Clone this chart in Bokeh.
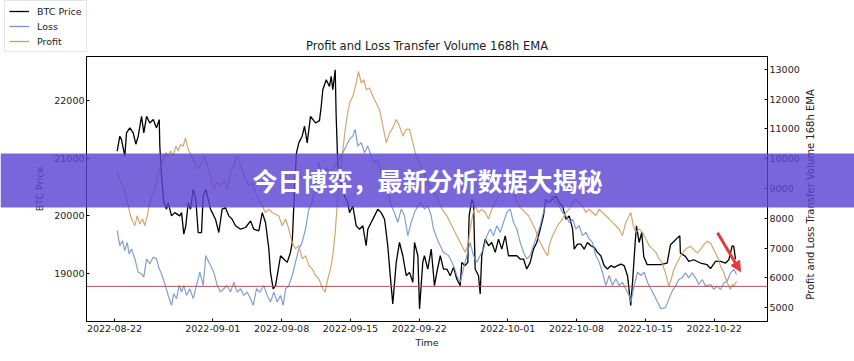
import math
import numpy as np
from bokeh.plotting import figure
from bokeh.layouts import column
from bokeh.models import (Range1d, LinearAxis, FixedTicker, DatetimeTickFormatter,
                          Span, BoxAnnotation, Label, Arrow, NormalHead, Legend, LegendItem)
from bokeh.embed import file_html
from bokeh.resources import INLINE

# ---------------- data ----------------
START = np.datetime64("2022-08-22T00:00:00", "ms")   # day 0 of the day offsets below
DAY_MS = 86400000

TICK_DATES = ["2022-08-22", "2022-09-01", "2022-09-08", "2022-09-15", "2022-09-22",
              "2022-10-01", "2022-10-08", "2022-10-15", "2022-10-22"]
LEFT_TICKS = [19000, 20000, 21000, 22000]
RIGHT_TICKS = [5000, 6000, 7000, 8000, 9000, 10000, 11000, 12000, 13000]
SERIES_NAMES = ["BTC Price", "Loss", "Profit"]

BTC_DAYS = [0.27, 0.54, 0.71, 1.05, 1.22, 1.56, 1.90, 2.17, 2.41, 2.75,
            2.98, 3.26, 3.59, 3.94, 4.27, 4.55, 4.61, 4.78, 5.02, 5.29,
            5.46, 5.80, 6.13, 6.64, 6.82, 7.05, 7.25, 7.50, 7.73, 8.01,
            8.27, 8.51, 8.85, 9.02, 9.29, 9.77, 9.94, 10.27, 10.61, 10.95,
            11.29, 11.63, 11.97, 12.31, 12.82, 13.33, 13.84, 14.17, 14.68, 15.03,
            15.36, 15.70, 15.87, 16.14, 16.38, 16.61, 16.89, 17.22, 17.57, 17.90,
            18.08, 18.31, 18.51, 18.75, 19.09, 19.33, 19.60, 19.94, 20.45, 20.85,
            21.03, 21.19, 21.54, 21.87, 22.04, 22.21, 22.45, 22.55, 22.72, 23.06,
            23.40, 23.73, 23.91, 24.24, 24.59, 24.92, 25.26, 25.60, 25.77, 26.11,
            26.45, 26.78, 27.13, 27.47, 27.80, 28.08, 28.31, 28.66, 28.99, 29.33,
            29.68, 30.01, 30.35, 30.52, 30.86, 31.03, 31.36, 31.53, 31.87, 32.22,
            32.55, 32.79, 33.14, 33.47, 33.81, 34.15, 34.49, 34.82, 35.17, 35.33,
            35.67, 35.94, 36.08, 36.35, 36.52, 36.69, 37.03, 37.20, 37.36, 37.71,
            38.05, 38.38, 38.73, 39.06, 39.40, 39.75, 40.08, 40.42, 40.93, 41.27,
            41.61, 41.94, 42.29, 42.62, 42.96, 43.31, 43.64, 43.87, 44.22, 44.56,
            44.90, 45.24, 45.58, 45.92, 46.26, 46.60, 46.77, 47.10, 47.44, 47.78,
            48.12, 48.46, 48.80, 49.13, 49.47, 49.82, 50.15, 50.49, 50.83, 51.17,
            51.51, 51.85, 52.19, 52.52, 52.70, 52.97, 53.10, 53.37, 53.64, 53.84,
            54.19, 54.86, 55.54, 56.22, 56.56, 56.90, 57.24, 57.51, 57.57, 58.08,
            58.42, 58.93, 59.61, 60.29, 60.63, 61.14, 61.65, 62.16, 62.50, 62.84,
            63.00, 63.17]
BTC_PRICE = [21121, 21379, 21322, 21034, 21436, 21523, 21436, 21241, 21379, 21724,
             21436, 21724, 21609, 21667, 21523, 21667, 21207, 20690, 20230, 20116,
             20230, 20000, 20057, 20000, 20057, 19684, 19828, 20230, 20116, 20460,
             20287, 19712, 19712, 20345, 20460, 20116, 20057, 19943, 19712, 20116,
             20143, 20000, 19943, 19828, 19770, 19799, 19914, 19770, 19741, 20057,
             19885, 19425, 19023, 18736, 18793, 19023, 19310, 19253, 19195, 19368,
             19540, 20460, 21092, 21264, 21379, 21552, 21264, 21724, 21609, 21650,
             21897, 22184, 22357, 22241, 22414, 22184, 22529, 21724, 20862, 20575,
             20345, 20230, 20057, 20172, 19828, 19770, 19828, 19483, 19770, 19885,
             20000, 20116, 20057, 19943, 19483, 18909, 18477, 19195, 19540, 19310,
             18965, 19023, 18850, 19540, 19310, 18391, 19195, 19310, 19080, 19425,
             18793, 19023, 19310, 19080, 19080, 18965, 19109, 18908, 18793, 19195,
             19138, 19195, 20000, 20287, 20230, 19080, 18965, 18650, 19310, 19598,
             19483, 19540, 19368, 19598, 19425, 19655, 19310, 19310, 19310, 19253,
             19253, 19080, 19195, 19425, 19540, 19770, 20000, 20287, 20230, 20287,
             20345, 20230, 20172, 19943, 20000, 19770, 19425, 19512, 19512, 19425,
             19540, 19483, 19454, 19368, 19310, 19138, 19080, 19138, 19109, 19138,
             19166, 19138, 18965, 18448, 18850, 19540, 19828, 19540, 19712, 19299,
             19155, 19155, 19155, 19184, 19500, 19557, 19615, 19655, 19356, 19299,
             19212, 19241, 19184, 19155, 19086, 19212, 19212, 19184, 19241, 19483,
             19471, 19253]

LOSS_DAYS = [0.27, 0.54, 0.81, 1.05, 1.29, 1.49, 1.73, 2.07, 2.41, 2.75,
             2.98, 3.26, 3.59, 3.94, 4.27, 4.55, 4.78, 5.12, 5.46, 5.80,
             6.03, 6.31, 6.58, 6.82, 7.05, 7.32, 7.66, 8.01, 8.34, 8.68,
             9.02, 9.29, 9.43, 9.77, 10.10, 10.45, 10.78, 11.12, 11.46, 11.80,
             12.14, 12.48, 12.82, 13.15, 13.50, 13.84, 14.11, 14.45, 14.78, 15.19,
             15.53, 15.87, 16.21, 16.55, 16.89, 17.16, 17.40, 17.73, 18.08, 18.41,
             18.75, 19.09, 19.43, 19.77, 20.11, 20.45, 20.78, 21.19, 21.54, 21.97,
             22.38, 23.06, 23.57, 23.91, 24.24, 24.48, 24.75, 25.10, 25.43, 25.77,
             26.11, 26.45, 26.78, 27.13, 27.47, 27.80, 28.15, 28.48, 28.82, 29.17,
             29.50, 29.84, 30.18, 30.52, 30.86, 31.20, 31.53, 31.87, 32.22, 32.45,
             32.96, 33.47, 33.98, 34.49, 34.82, 35.17, 35.50, 35.84, 36.18, 36.52,
             36.86, 37.20, 37.54, 37.88, 38.22, 38.56, 38.89, 39.24, 39.57, 39.91,
             40.25, 40.59, 40.93, 41.27, 41.61, 41.94, 42.29, 42.62, 42.96, 43.31,
             43.64, 43.98, 44.22, 44.56, 44.90, 45.24, 45.58, 45.92, 46.26, 46.60,
             46.93, 47.27, 47.61, 47.95, 48.29, 48.63, 48.96, 49.31, 49.64, 49.98,
             50.33, 50.66, 51.00, 51.34, 51.68, 52.01, 52.36, 52.52, 52.87, 53.21,
             53.54, 53.88, 54.22, 54.56, 54.91, 55.24, 55.58, 56.05, 56.39, 56.73,
             57.07, 57.41, 57.75, 58.08, 58.42, 58.77, 59.11, 59.44, 59.79, 60.13,
             60.63, 60.97, 61.31, 61.65, 61.99, 62.33, 62.67, 63.01, 63.28]
LOSS = [7583, 7081, 7248, 6914, 7191, 6803, 6971, 6636, 6188, 6135,
        6021, 6636, 6469, 6690, 6636, 6302, 6135, 5800, 5409, 5075,
        5466, 5299, 5743, 5520, 5743, 5409, 5633, 5299, 5743, 6188,
        5743, 6747, 6636, 6412, 6188, 5743, 5520, 5633, 5743, 5520,
        5854, 5520, 5633, 5409, 5520, 5299, 5075, 5633, 5520, 5743,
        5409, 5185, 5520, 5185, 5409, 5075, 5633, 5743, 6078, 6523,
        6971, 7191, 7640, 8308, 8529, 9198, 9867, 9400, 9700, 9500,
        9756, 10091, 10425, 10649, 10760, 10984, 10425, 10536, 10201, 10425,
        10091, 9867, 9980, 9532, 9198, 8863, 8419, 8195, 7860, 8308,
        8084, 7416, 7860, 8195, 8419, 8530, 8308, 8419, 8084, 7640,
        7191, 6857, 6747, 6412, 6078, 5854, 6302, 6747, 7191, 6747,
        6523, 6747, 6971, 7416, 7640, 7416, 7750, 7526, 7860, 8195,
        8308, 7860, 7640, 7191, 6857, 6636, 6747, 7081, 7416, 7750,
        8195, 8642, 8530, 8753, 8530, 8419, 8195, 8084, 7860, 7974,
        7640, 7750, 7416, 7526, 7305, 7191, 6747, 6523, 6188, 5743,
        6078, 5743, 5966, 5743, 5854, 5633, 5409, 5185, 5743, 6188,
        6078, 6188, 5854, 5633, 5409, 5185, 4964, 4998, 5275, 5553,
        5720, 5944, 6000, 6168, 6000, 6168, 6000, 5777, 5944, 5720,
        5777, 5610, 5720, 5610, 5834, 5887, 6168, 6279, 6112]

PROFIT_DAYS = [0.27, 0.54, 0.88, 1.15, 1.39, 1.63, 1.90, 2.07, 2.31, 2.58,
               2.85, 3.08, 3.33, 3.53, 3.76, 4.10, 4.34, 4.61, 4.88, 5.22,
               5.46, 5.70, 5.97, 6.24, 6.48, 6.71, 6.99, 7.22, 7.50, 7.83,
               8.17, 8.51, 8.85, 9.19, 9.43, 9.77, 10.10, 10.45, 10.78, 11.12,
               11.46, 11.80, 12.14, 12.41, 12.65, 12.99, 13.33, 13.66, 14.01, 14.34,
               14.68, 15.03, 15.36, 15.70, 16.04, 16.71, 17.06, 17.40, 17.73, 18.08,
               18.41, 18.75, 19.09, 19.43, 19.77, 20.11, 20.45, 20.78, 21.19, 21.43,
               21.70, 21.97, 22.21, 22.45, 22.72, 22.99, 23.23, 23.47, 23.67, 23.91,
               24.24, 24.59, 24.82, 25.10, 25.36, 25.60, 25.94, 26.28, 26.62, 26.96,
               27.30, 27.65, 27.98, 28.31, 28.66, 28.99, 29.33, 29.68, 30.01, 30.35,
               30.69, 31.03, 31.36, 31.71, 32.05, 32.38, 32.79, 33.30, 33.81, 34.31,
               34.82, 35.33, 35.67, 35.94, 36.18, 36.42, 36.69, 37.03, 37.36, 37.71,
               38.05, 38.38, 38.73, 39.06, 39.40, 39.75, 40.08, 40.42, 40.76, 41.10,
               41.44, 41.79, 42.12, 42.46, 42.80, 43.13, 43.47, 43.82, 44.08, 44.22,
               44.56, 45.07, 45.58, 45.92, 46.26, 46.60, 46.93, 47.27, 47.61, 47.95,
               48.29, 48.63, 48.96, 49.31, 49.64, 49.98, 50.33, 50.66, 51.00, 51.34,
               51.68, 52.01, 52.36, 52.52, 52.77, 53.03, 53.37, 53.71, 54.05, 54.39,
               54.73, 55.07, 55.41, 55.67, 56.05, 56.39, 56.63, 56.90, 57.24, 57.57,
               57.91, 58.26, 58.59, 58.93, 59.28, 59.61, 59.95, 60.29, 60.63, 60.97,
               61.31, 61.65, 61.99, 62.33, 62.67, 62.84, 63.01, 63.28]
PROFIT = [9589, 9311, 9087, 8753, 8419, 8084, 7860, 7750, 8084, 7807,
          7974, 7750, 8084, 8419, 8753, 8977, 9311, 9646, 9867, 10201,
          10091, 10258, 10091, 10425, 10258, 10482, 10425, 10702, 10315, 10091,
          9867, 9646, 9867, 10091, 9756, 9422, 8977, 9198, 9087, 9311,
          8977, 9532, 9756, 10091, 9980, 9646, 9311, 9087, 9198, 8863,
          8642, 8419, 8195, 8308, 8195, 8084, 7750, 7974, 7640, 7191,
          6971, 7081, 6636, 6747, 6412, 6302, 6078, 5966, 5633, 5520,
          5966, 6302, 6747, 7526, 8753, 9646, 10315, 10984, 11428, 11873,
          12097, 12542, 12933, 12542, 12655, 12321, 12375, 12097, 11873, 11652,
          11094, 10536, 10870, 11037, 11318, 11094, 10760, 10984, 10984, 10536,
          10091, 9867, 9646, 9311, 9087, 8863, 8753, 8308, 8084, 7750,
          7416, 7081, 6857, 7081, 7640, 8084, 8419, 8195, 8308, 8195,
          7974, 8308, 8530, 8753, 8977, 8863, 9087, 8977, 8753, 8419,
          8308, 8195, 8084, 7860, 7640, 7305, 7081, 6857, 6747, 7081,
          7416, 7750, 7974, 8195, 8308, 8530, 8642, 8530, 8419, 8195,
          8308, 8195, 8084, 8308, 8195, 8084, 7974, 7860, 7750, 7640,
          7416, 7860, 8084, 8195, 7750, 7526, 7640, 7526, 7305, 7081,
          6971, 6857, 6636, 6523, 6168, 5720, 5944, 6279, 6503, 6725,
          6892, 7004, 7058, 6947, 6837, 6947, 7115, 7225, 7171, 6947,
          6725, 6391, 6168, 5834, 5610, 5777, 5720, 5887]

THRESHOLD_PRICE = 18780            # horizontal reference line (left axis units)
ARROW_START = (61.34, 7516)        # (day offset, right-axis value)
ARROW_END = (63.68, 6212)

TITLE = "Profit and Loss Transfer Volume 168h EMA"
RIGHT_LABEL = "Profit and Loss Transfer Volume 168h EMA"
BANNER_TEXT = "今日博弈，最新分析数据大揭秘"

X_LIMITS = (-2.85, 66.43)          # day offsets
LEFT_LIMITS = (18172, 22759)
RIGHT_LIMITS = (4532, 13435)

BTC_COLOR = "#000000"
LOSS_COLOR = "#7595c8"
PROFIT_COLOR = "#cc9f62"
COLORS = [BTC_COLOR, LOSS_COLOR, PROFIT_COLOR]
RED = "#e23b3b"

W, H = 854, 361


def ms(d):
    return float(START.astype(np.int64) + d * DAY_MS)


def to_dt(days):
    return START + (np.array(days) * DAY_MS).astype(np.int64).astype("timedelta64[ms]")


tick_ms = [float(np.datetime64(t, "ms").astype(np.int64)) for t in TICK_DATES]

# ---------------- main figure ----------------
FONT = "DejaVu Sans"
p = figure(width=W, height=H, x_axis_type="datetime",
           x_range=Range1d(ms(X_LIMITS[0]), ms(X_LIMITS[1])),
           y_range=Range1d(*LEFT_LIMITS),
           output_backend="svg", toolbar_location=None,
           min_border_left=86, min_border_right=87, min_border_top=56, min_border_bottom=40,
           title=TITLE)
p.extra_y_ranges = {"right": Range1d(*RIGHT_LIMITS)}
p.grid.visible = False
p.outline_line_color = "black"
p.outline_line_width = 1
p.background_fill_color = "white"
p.border_fill_color = "white"

p.title.text_font = FONT
p.title.text_font_size = "11.5px"
p.title.text_font_style = "normal"
p.title.text_color = "#222222"
p.title.align = "center"
p.title.standoff = 7


def style_axis(ax):
    ax.axis_line_color = "black"
    ax.major_tick_line_color = "black"
    ax.major_tick_in = 3
    ax.major_tick_out = 0
    ax.minor_tick_line_color = None
    ax.major_label_text_font = FONT
    ax.major_label_text_font_size = "9.5px"
    ax.major_label_text_color = "#222222"
    ax.axis_label_text_font = FONT
    ax.axis_label_text_font_size = "9.5px"
    ax.axis_label_text_font_style = "normal"
    ax.axis_label_text_color = "#222222"


xa = p.xaxis[0]
xa.ticker = FixedTicker(ticks=tick_ms)
fmt = "%Y-%m-%d"
xa.formatter = DatetimeTickFormatter(hours=fmt, days=fmt, months=fmt, years=fmt,
                                     hourmin=fmt, minutes=fmt, minsec=fmt, seconds=fmt)
xa.axis_label = "Time"
style_axis(xa)
xa.major_label_standoff = 3
xa.axis_label_standoff = 2

ya = p.yaxis[0]
ya.ticker = FixedTicker(ticks=LEFT_TICKS)
ya.axis_label = "BTC Price"
style_axis(ya)
ya.major_label_standoff = 2
ya.axis_label_standoff = 6

ra = LinearAxis(y_range_name="right", ticker=FixedTicker(ticks=RIGHT_TICKS))
style_axis(ra)
ra.major_label_standoff = 2
p.add_layout(ra, "right")

l_btc = p.line(to_dt(BTC_DAYS), BTC_PRICE, line_color=BTC_COLOR, line_width=1.3)
l_loss = p.line(to_dt(LOSS_DAYS), LOSS, line_color=LOSS_COLOR, line_width=1.2,
                line_alpha=0.9, y_range_name="right")
l_profit = p.line(to_dt(PROFIT_DAYS), PROFIT, line_color=PROFIT_COLOR, line_width=1.2,
                  line_alpha=0.9, y_range_name="right")

p.add_layout(Span(location=THRESHOLD_PRICE, dimension="width",
                  line_color="#a85858", line_width=1))

p.add_layout(Arrow(end=NormalHead(size=10, fill_color=RED, line_color=RED),
                   x_start=ms(ARROW_START[0]), y_start=ARROW_START[1],
                   x_end=ms(ARROW_END[0]), y_end=ARROW_END[1],
                   y_range_name="right", line_color=RED, line_width=3))

# ---------------- overlay figure (page-wide decorations) ----------------
# a transparent figure whose frame covers the whole page, stacked on top of the chart
ov = figure(width=W, height=H, x_range=Range1d(0, W), y_range=Range1d(H, 0),
            output_backend="svg", toolbar_location=None,
            x_axis_location=None, y_axis_location=None,
            min_border=0, min_border_left=0, min_border_right=0,
            min_border_top=0, min_border_bottom=0)
ov.grid.visible = False
ov.outline_line_color = None
ov.background_fill_alpha = 0
ov.border_fill_alpha = 0
ov.margin = (-H, 0, 0, 0)
for fig in (p, ov):
    try:
        fig.frame_align = False      # do not let the column align the two frames
    except Exception:
        pass

# legend (its sample renderers sit outside the visible range; they only lend their styles)
samples = [ov.line(x=[-100, -90], y=[-100, -100], line_color=c, line_width=1.3) for c in COLORS]
legend = Legend(items=[LegendItem(label=n, renderers=[r]) for n, r in zip(SERIES_NAMES, samples)],
                location=(4, H - 52),
                label_text_font=FONT, label_text_font_size="9.5px",
                label_text_color="#222222",
                glyph_width=20, glyph_height=12, label_height=12,
                spacing=3, padding=4, margin=0, label_standoff=8,
                border_line_color="#cccccc", border_line_width=1,
                background_fill_color="white", background_fill_alpha=1.0)
ov.add_layout(legend)

# right axis title, reading bottom-to-top as in the reference
ov.add_layout(Label(x=810, y=194, text=RIGHT_LABEL, angle=math.pi / 2,
                    text_align="center", text_baseline="middle",
                    text_font=FONT, text_font_size="10px", text_color="#222222"))

# banner
ov.add_layout(BoxAnnotation(left=0, right=W, top=153, bottom=207,
                            fill_color="#5a44d2", fill_alpha=0.82, line_color=None))
ov.add_layout(Label(x=427, y=179, text=BANNER_TEXT,
                    text_align="center", text_baseline="middle",
                    text_color="white", text_font="Noto Sans CJK SC",
                    text_font_size="25px", text_font_style="bold"))

page = column(p, ov)
open("out.html", "w").write(file_html(page, INLINE))
